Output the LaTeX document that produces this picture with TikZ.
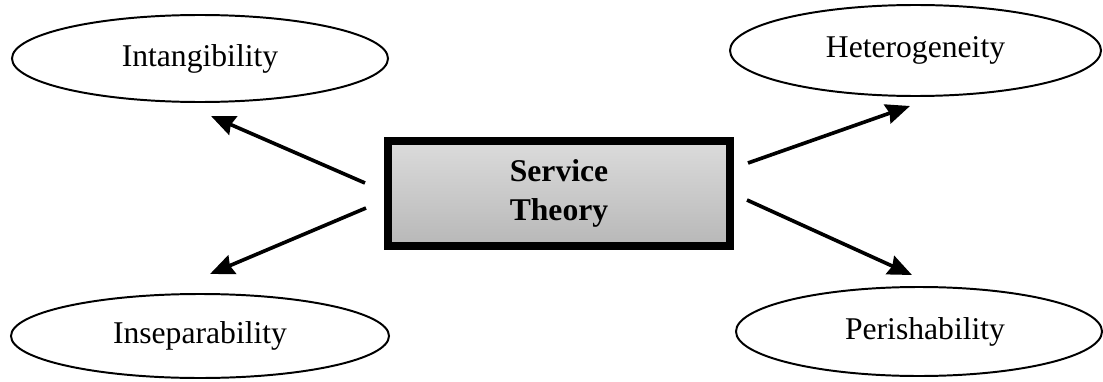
\documentclass[tikz,border=0pt]{standalone}
\usepackage{fontspec}
\setmainfont{Liberation Serif}
\usetikzlibrary{shapes.geometric,arrows.meta}

\begin{document}
\begin{tikzpicture}[x=0.025cm,y=-0.025cm]
	% styles
	\tikzstyle{trait} = [draw,ellipse,line width=1.4pt,inner sep=0pt,
		font=\fontsize{22.5}{28}\selectfont]
	\tikzstyle{core} = [draw,line width=5.7pt,inner sep=0pt,align=center,
		top color=black!14,bottom color=black!28,
		minimum width=8.55cm,minimum height=2.625cm,
		font=\fontsize{22.5}{28}\selectfont\bfseries]
	\tikzstyle{pointer} = [line width=2.6pt,-{Stealth[length=0.6cm,width=0.5cm,inset=0.06cm]}]

	% bounding box
	\useasboundingbox (0,0) rectangle (1103,381);

	% central box
	\node[core] (theory) at (559,193.5) {Service\\Theory};

	% characteristics
	\node[trait,minimum width=376*0.025cm,minimum height=87*0.025cm] (intang) at (200,58.5) {Intangibility};
	\node[trait,minimum width=371*0.025cm,minimum height=91*0.025cm] (hetero) at (915.5,50.5) {Heterogeneity};
	\node[trait,minimum width=378*0.025cm,minimum height=84*0.025cm] (insep) at (200,336) {Inseparability};
	\node[trait,minimum width=366*0.025cm,minimum height=89*0.025cm] (perish) at (919,331.5) {\hspace*{0.3cm}Perishability};

	% arrow ends
	\coordinate (intang-from) at (365,183);
	\coordinate (intang-to) at (211,116);
	\coordinate (insep-from) at (366,208);
	\coordinate (insep-to) at (210,274);
	\coordinate (hetero-from) at (748,163);
	\coordinate (hetero-to) at (910,106);
	\coordinate (perish-from) at (747,200);
	\coordinate (perish-to) at (912,275);

	% arrows
	\draw[pointer] (intang-from) -- (intang-to);
	\draw[pointer] (insep-from) -- (insep-to);
	\draw[pointer] (hetero-from) -- (hetero-to);
	\draw[pointer] (perish-from) -- (perish-to);
\end{tikzpicture}
\end{document}
